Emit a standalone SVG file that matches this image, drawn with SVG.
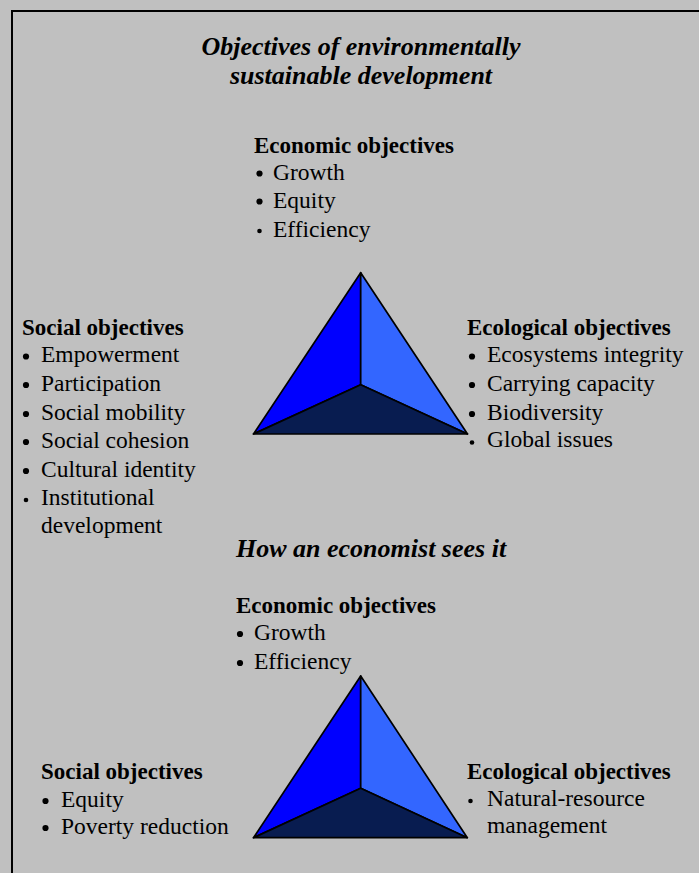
<svg xmlns="http://www.w3.org/2000/svg" width="699" height="873" viewBox="0 0 699 873">
<defs>
<circle id="dot" r="3.1" fill="#000"/>
<circle id="sdot" r="2.3" fill="#000"/>
</defs>
<style>
text{font-family:"Liberation Serif","Times New Roman",serif;fill:#000}
.t{font-size:26px;font-weight:bold;font-style:italic}
.h{font-size:23px;font-weight:bold}
.b{font-size:23.5px}
.lf{fill:#0000ff}
.rf{fill:#3366ff}
.bf{fill:#081c50}
.tri polygon{stroke:#000;stroke-width:1.7;stroke-linejoin:round}
</style>
<rect width="699" height="873" fill="#c0c0c0"/>
<path d="M12,873V11H699" fill="none" stroke="#000" stroke-width="2"/>
<g id="title">
<text class="t" x="361" y="55" text-anchor="middle">Objectives of environmentally</text>
<text class="t" x="361" y="84" text-anchor="middle">sustainable development</text>
</g>
<g id="economic-1">
<text class="h" x="254" y="153">Economic objectives</text>
<use href="#dot" x="259.5" y="173.5"/><text class="b" x="273" y="180">Growth</text>
<use href="#dot" x="259.5" y="201.5"/><text class="b" x="273" y="208">Equity</text>
<use href="#sdot" x="259.5" y="231"/><text class="b" x="273" y="237">Efficiency</text>
</g>
<g id="social-1">
<text class="h" x="22" y="335">Social objectives</text>
<use href="#dot" x="26" y="356.5"/><text class="b" x="41" y="362">Empowerment</text>
<use href="#dot" x="26" y="385"/><text class="b" x="41" y="391">Participation</text>
<use href="#dot" x="26" y="414"/><text class="b" x="41" y="420">Social mobility</text>
<use href="#dot" x="26" y="442"/><text class="b" x="41" y="448">Social cohesion</text>
<use href="#dot" x="26" y="471"/><text class="b" x="41" y="477">Cultural identity</text>
<use href="#sdot" x="26" y="500"/><text class="b" x="41" y="505">Institutional</text>
<text class="b" x="41" y="533">development</text>
</g>
<g id="ecological-1">
<text class="h" x="467" y="335">Ecological objectives</text>
<use href="#dot" x="472" y="356.5"/><text class="b" x="487" y="362">Ecosystems integrity</text>
<use href="#dot" x="472" y="385"/><text class="b" x="487" y="391">Carrying capacity</text>
<use href="#dot" x="472" y="414"/><text class="b" x="487" y="420">Biodiversity</text>
<use href="#sdot" x="472" y="442.5"/><text class="b" x="487" y="447">Global issues</text>
</g>
<g id="triangle-1" class="tri">
<polygon class="lf" points="360.7,272.7 253.5,434 360.7,384.7"/>
<polygon class="rf" points="360.7,272.7 360.7,384.7 467.5,434"/>
<polygon class="bf" points="253.5,434 360.7,384.7 467.5,434"/>
</g>
<g id="subtitle">
<text class="t" x="236" y="557">How an economist sees it</text>
</g>
<g id="economic-2">
<text class="h" x="236" y="613">Economic objectives</text>
<use href="#dot" x="240" y="634"/><text class="b" x="254" y="640">Growth</text>
<use href="#dot" x="240" y="663"/><text class="b" x="254" y="669">Efficiency</text>
</g>
<g id="social-2">
<text class="h" x="41" y="779">Social objectives</text>
<use href="#dot" x="45.5" y="801"/><text class="b" x="61" y="807">Equity</text>
<use href="#dot" x="45.5" y="828"/><text class="b" x="61" y="834">Poverty reduction</text>
</g>
<g id="ecological-2">
<text class="h" x="467" y="779">Ecological objectives</text>
<use href="#sdot" x="470.5" y="801"/><text class="b" x="487" y="806">Natural-resource</text>
<text class="b" x="487" y="833">management</text>
</g>
<g id="triangle-2" class="tri">
<polygon class="lf" points="360.7,676 253.5,837.7 360.7,788.3"/>
<polygon class="rf" points="360.7,676 360.7,788.3 467.3,837.7"/>
<polygon class="bf" points="253.5,837.7 360.7,788.3 467.3,837.7"/>
</g>
<g id="connectors"/>
</svg>
